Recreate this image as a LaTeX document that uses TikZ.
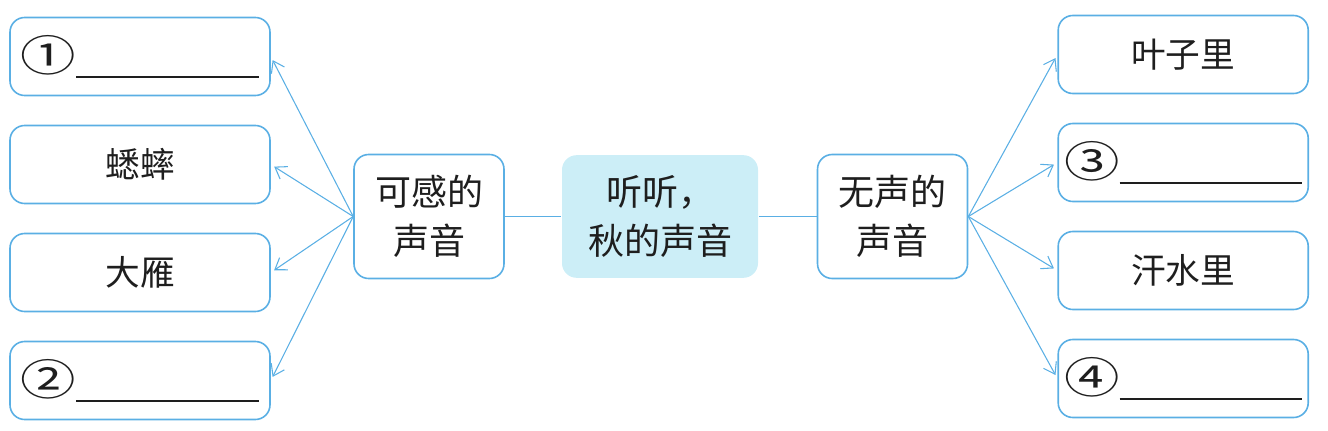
\documentclass[tikz,border=0pt]{standalone}
\usepackage{fontspec}
\usepackage{xcolor}
\usepackage{tikz}
\usetikzlibrary{positioning, arrows.meta}
\newfontfamily\cjk{Noto Sans CJK SC}
\definecolor{mapblue}{RGB}{90,175,228}
\definecolor{mapfill}{RGB}{204,238,247}
\definecolor{ink}{RGB}{30,30,30}
\newcommand{\blank}{\rule[-7.5pt]{137pt}{1.2pt}}
\newcommand{\circnum}[1]{\raisebox{-3pt}{\scalebox{1.3}[1]{\fontsize{32}{32}\selectfont#1}}}

\begin{document}
\begin{tikzpicture}[x=0.75pt,y=0.75pt,on grid,
    box/.style={rounded corners=11pt,draw=mapblue,line width=1.2pt,text=ink,
      inner sep=0pt,font=\cjk\fontsize{26}{36}\selectfont,align=center},
    leafL/.style={box,minimum width=195pt,minimum height=58.5pt},
    leafR/.style={box,minimum width=187.5pt,minimum height=58.5pt},
    hub/.style={box,minimum width=112.5pt,minimum height=93pt,
      font=\cjk\fontsize{27}{37}\selectfont},
    root/.style={hub,draw=none,fill=mapfill,minimum width=147pt,minimum height=92pt},
    arr/.style={mapblue,line width=0.8pt,shorten >=3pt,
      -{Straight Barb[length=8pt,width=11pt,line width=0.8pt]}}]
  \useasboundingbox (0,0) rectangle (1328,430);

  \node[root] (T) at (660,213.5) {听听，\\秋的声音};
  \node[hub] (K) [left=173.25pt of T] {可感的\\声音};
  \node[hub] (W) [right=174.4pt of T] {无声的\\声音};

  \node[leafL] (K2) [above left=39pt and 216.75pt of K] {蟋蟀};
  \node[leafL] (K1) [above=81pt of K2] {\circnum{①}\blank};
  \node[leafL] (K3) [below=81pt of K2] {大雁};
  \node[leafL] (K4) [below=81pt of K3] {\circnum{②}\blank};

  \node[leafR] (W2) [above right=40.5pt and 218pt of W] {\circnum{③}\blank};
  \node[leafR] (W1) [above=81pt of W2] {叶子里};
  \node[leafR] (W3) [below=81pt of W2] {汗水里};
  \node[leafR] (W4) [below=81pt of W3] {\circnum{④}\blank};

  \draw[mapblue,line width=1pt] (K) -- (T) -- (W);

  \path[arr]
    (K.west) edge (K1.east)
    (K.west) edge (K2.east)
    (K.west) edge (K3.east)
    (K.west) edge (K4.east)
    (W.east) edge (W1.west)
    (W.east) edge (W2.west)
    (W.east) edge (W3.west)
    (W.east) edge (W4.west);
\end{tikzpicture}
\end{document}
